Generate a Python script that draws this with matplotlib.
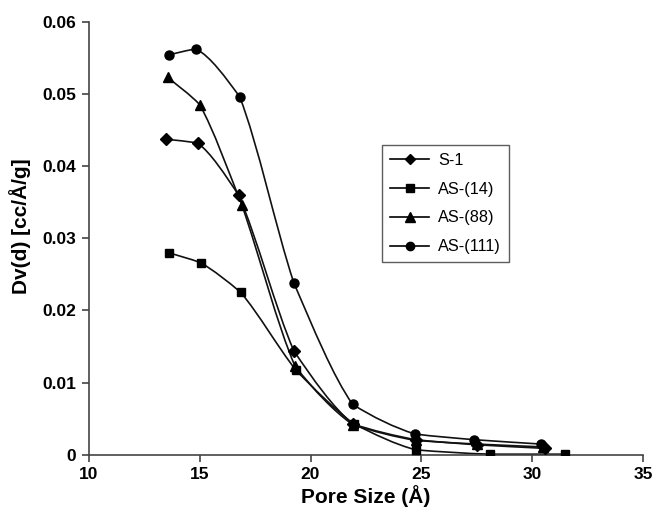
import numpy as np
import matplotlib.pyplot as plt
from matplotlib.path import Path
from matplotlib.patches import PathPatch
from matplotlib.lines import Line2D

plt.rcParams['font.family'] = ['Liberation Sans', 'DejaVu Sans']

# --- data ---
x_s1 = [13.5, 14.9, 16.75, 19.25, 21.9, 24.75, 27.5, 30.6]
y_s1 = [0.0437, 0.0432, 0.0360, 0.0144, 0.0043, 0.0021, 0.0014, 0.0009]

x_as14 = [13.6, 15.05, 16.85, 19.35, 21.95, 24.75, 28.1, 31.5]
y_as14 = [0.0280, 0.0266, 0.0225, 0.0117, 0.0043, 0.0007, 0.0001, 0.0001]

x_as88 = [13.55, 15.0, 16.9, 19.3, 21.9, 24.75, 27.5, 30.5]
y_as88 = [0.0523, 0.0485, 0.0346, 0.0123, 0.0042, 0.0020, 0.0015, 0.0011]

x_as111 = [13.6, 14.85, 16.8, 19.25, 21.9, 24.7, 27.4, 30.4]
y_as111 = [0.0554, 0.0562, 0.0496, 0.0238, 0.0070, 0.0029, 0.0021, 0.0015]

labels = ['S-1', 'AS-(14)', 'AS-(88)', 'AS-(111)']
markers = ['D', 's', '^', 'o']
msizes = [6, 6, 7, 6.5]


def smooth_path(x, y, a=0.5):
    # gently smoothed line: Bezier segments, slopes half way between
    # a monotone (pchip-like) slope and the straight segment
    x = np.asarray(x, float)
    y = np.asarray(y, float)
    h = np.diff(x)
    d = np.diff(y) / h
    m = np.zeros(len(x))
    m[0], m[-1] = d[0], d[-1]
    for k in range(1, len(x) - 1):
        if d[k - 1] * d[k] > 0:
            w1 = 2 * h[k] + h[k - 1]
            w2 = h[k] + 2 * h[k - 1]
            m[k] = (w1 + w2) / (w1 / d[k - 1] + w2 / d[k])
    verts = [(x[0], y[0])]
    codes = [Path.MOVETO]
    for k in range(len(x) - 1):
        t = h[k] / 3.0
        s0 = a * m[k] + (1 - a) * d[k]
        s1 = a * m[k + 1] + (1 - a) * d[k]
        verts += [(x[k] + t, y[k] + s0 * t),
                  (x[k + 1] - t, y[k + 1] - s1 * t),
                  (x[k + 1], y[k + 1])]
        codes += [Path.CURVE4] * 3
    return Path(verts, codes)


fig = plt.figure(figsize=(6.54, 5.14), dpi=100)
ax = fig.add_axes([0.136, 0.115, 0.847, 0.843])

series = [(x_s1, y_s1), (x_as14, y_as14), (x_as88, y_as88), (x_as111, y_as111)]
handles = []
for (xs, ys), lab, m, ms in zip(series, labels, markers, msizes):
    ax.add_patch(PathPatch(smooth_path(xs, ys), facecolor='none',
                           edgecolor='#111111', lw=1.2, zorder=2))
    ax.plot(xs, ys, ls='none', marker=m, ms=ms, color='black', zorder=3)
    handles.append(Line2D([], [], color='black', lw=1.2, marker=m, ms=ms - 0.5, label=lab))

ax.set_xlim(10, 35)
ax.set_ylim(0, 0.06)
ax.set_xticks([10, 15, 20, 25, 30, 35])
ax.set_yticks([0, 0.01, 0.02, 0.03, 0.04, 0.05, 0.06])
ax.set_yticklabels(['0', '0.01', '0.02', '0.03', '0.04', '0.05', '0.06'])
for s in ['top', 'right']:
    ax.spines[s].set_visible(False)
for s in ['left', 'bottom']:
    ax.spines[s].set_color('#444444')
    ax.spines[s].set_linewidth(1.2)
ax.tick_params(direction='out', length=5, width=1.2, color='#444444',
               labelsize=12.5, pad=4)
for t in ax.get_xticklabels() + ax.get_yticklabels():
    t.set_fontweight('bold')

ax.set_xlabel('Pore Size (Å)', fontsize=15, fontweight='bold', labelpad=2)
ax.set_ylabel('Dv(d) [cc/Å/g]', fontsize=15, fontweight='bold')
ax.yaxis.set_label_coords(-0.104, 0.528)

leg = ax.legend(handles=handles, loc='upper left', bbox_to_anchor=(0.529, 0.716),
                fontsize=11.7, frameon=True, fancybox=False, edgecolor='#333333',
                handlelength=2.4, handletextpad=0.55, borderpad=0.5,
                labelspacing=0.85, borderaxespad=0)
leg.get_frame().set_linewidth(1.0)

fig.savefig('out.png', dpi=100)
